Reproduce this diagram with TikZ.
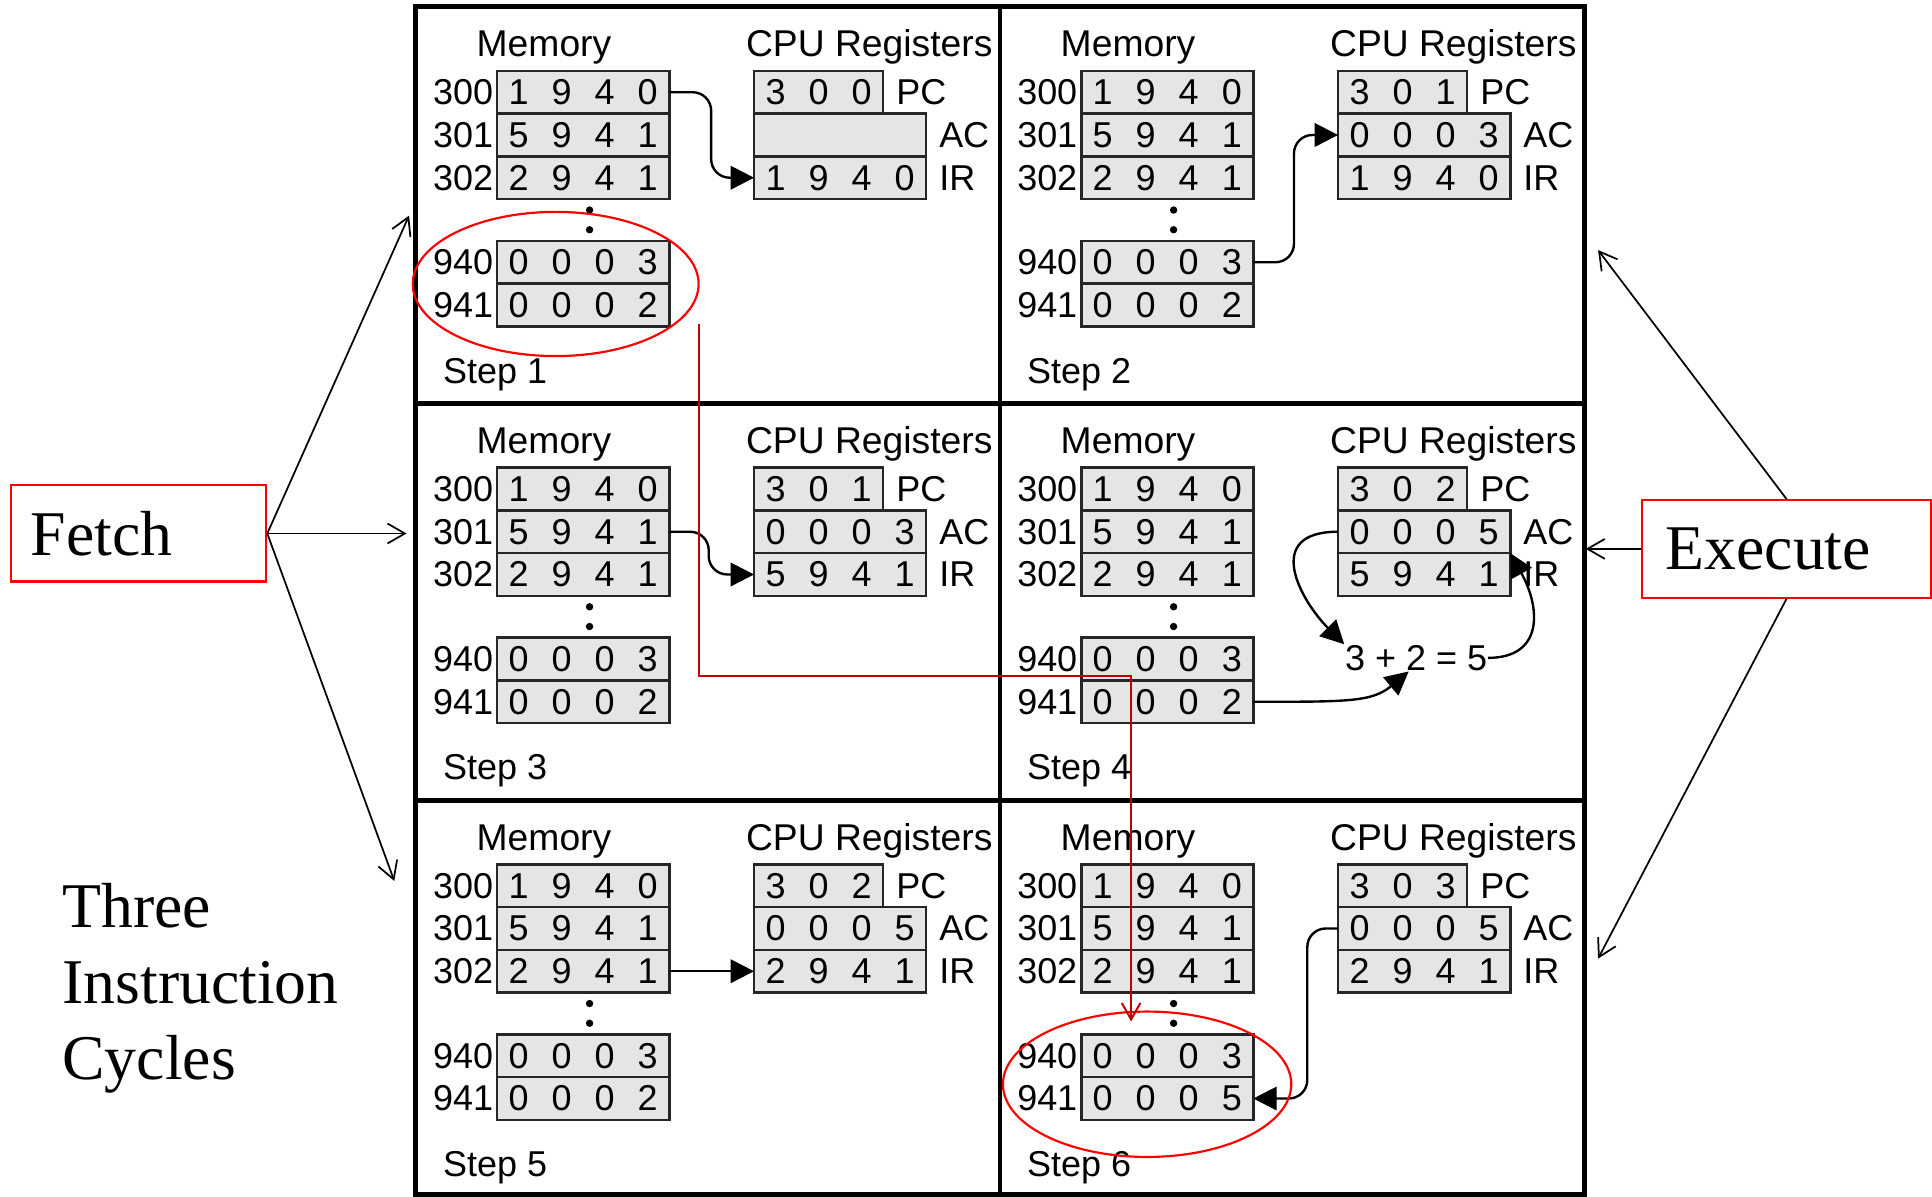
\documentclass[tikz,border=0pt]{standalone}
\usepackage{fontspec}
\setmainfont{Liberation Serif}
\setsansfont{Liberation Sans}
\usepackage{xcolor}
\usepackage{tikz}
\usetikzlibrary{arrows.meta, positioning}

\definecolor{darkred}{RGB}{192,0,0}
\newcommand{\pfont}{\sffamily\fontsize{8.3}{9.9}\selectfont}
\newcommand{\hfont}{\sffamily\fontsize{8.6}{10.3}\selectfont}
% one box per digit, so the digits sit evenly in a word
\newcommand{\digs}[1]{\edef\digstmp{#1}\expandafter\digsnext\digstmp\relax}
\def\digsnext#1{\ifx\relax#1\else\makebox[3.49mm]{#1}\expandafter\digsnext\fi}

\begin{document}
\begin{tikzpicture}[
    x=0.01cm, y=-0.01cm,
    frame/.style={line width=1.1pt},
    word/.style={draw=black!85, fill=black!10, line width=0.6pt, inner sep=0pt, outer sep=0pt,
                 minimum width=13.95mm, minimum height=3.47mm, anchor=north west, font=\pfont},
    pcword/.style={word, minimum width=10.47mm},
    lbl/.style={font=\pfont, inner sep=0pt},
    head/.style={lbl, font=\hfont, anchor=base},
    vdot/.style={circle, fill, inner sep=0pt, minimum size=0.6mm},
    link/.style={line width=0.55pt, -{Triangle[length=5.4pt, width=5.4pt]}},
    hint/.style={line width=0.4pt, -{Straight Barb[length=4pt, width=4.6pt]}},
    tag/.style={draw=red, line width=0.5pt, align=left, inner ysep=0pt,
                font=\fontsize{14.7}{17.6}\selectfont},
    ring/.style={draw=red, line width=0.5pt},
    route/.style={draw=darkred, line width=0.45pt, -{Straight Barb[length=3.8pt, width=4.3pt]}}
]
\useasboundingbox (0,0) rectangle (1568,971);

% six steps
\foreach \n/\ox/\oy/\vpc/\vac/\vir/\vlow in {
    1/337.5/5.5/300//1940/0002,
    2/811.5/5.5/301/0003/1940/0002,
    3/337.5/327.5/301/0003/5941/0002,
    4/811.5/327.5/302/0005/5941/0002,
    5/337.5/649.5/302/0005/2941/0002,
    6/811.5/649.5/303/0005/2941/0005} {
  \begin{scope}[shift={(\ox,\oy)}]
    \node[head] (p\n-mem) at (104,40.5) {Memory};
    \node[head] (p\n-cpu) at (368,40.5) {CPU Registers};
    \foreach \a/\w/\y in {300/1940/52, 301/5941/86.7, 302/2941/121.4, 940/0003/190, 941/\vlow/224.7} {
      \node[word] (p\n-\a) at (66,\y) {\digs{\w}};
      \node[lbl, left=0.25mm of p\n-\a] (p\n-a\a) {\a};
    }
    \node[vdot] (p\n-d1) at (141,165) {};
    \node[vdot] (p\n-d2) at (141,181) {};
    \node[pcword] (p\n-pc) at (274.5,52) {\digs{\vpc}};
    \node[word] (p\n-ac) at (274.5,86.7) {\digs{\vac}};
    \node[word] (p\n-ir) at (274.5,121.4) {\digs{\vir}};
    \node[lbl, right=1mm of p\n-pc] (p\n-lpc) {PC};
    \node[lbl, right=1mm of p\n-ac] (p\n-lac) {AC};
    \node[lbl, right=1mm of p\n-ir] (p\n-lir) {IR};
    \node[lbl, anchor=base west] (p\n-step) at (21.5,305.5) {Step \n};
  \end{scope}
}

\draw[frame] (337.5,5.5) rectangle (1286,969.5);
\draw[frame] (811.5,5.5) -- (811.5,969.5);
\draw[frame] (337.5,327.5) -- (1286,327.5);
\draw[frame] (337.5,649.5) -- (1286,649.5);

\node[lbl, anchor=base west] (p4-sum) at (1091,544) {3 + 2 = 5};

\draw[link, rounded corners=1.5mm] (p1-300.east) -- ++(34,0) |- (p1-ir.west);
\draw[link, rounded corners=1.5mm] (p2-940.east) -- ++(33,0) |- (p2-ac.west);
\draw[link, rounded corners=1.5mm] (p3-301.east) -- ++(32,0) |- (p3-ir.west);
\draw[link] (p4-ac.west) .. controls +(-62,0) and +(-35,-35) .. (p4-sum.north west);
\draw[link] (p4-941.east) .. controls +(75,0) and +(-30,25) .. ([xshift=-0.6mm]p4-sum.south);
\draw[link] (p4-sum.east) .. controls +(45,0) and +(25,45) .. (p4-ac.south east);
\draw[link] (p5-302.east) -- (p5-ir.west);
\draw[link, rounded corners=1.5mm] (p6-ac.west) -- ++(-25,0) |- (p6-941.east);

% fetch / execute notes
\node[tag, text width=1.75cm, inner xsep=1.6mm, minimum height=7.8mm] (fetch) at (112.5,433) {Fetch};
\node[tag, text width=1.96cm, inner xsep=1.9mm, minimum height=7.9mm] (exec) at (1450,445.5) {Execute};
\node[anchor=west, align=left, inner sep=0pt, font=\fontsize{14.7}{17.6}\selectfont] (cycles) at (50,802)
  {Three\\Instruction\\Cycles};

\coordinate (f-up) at (332,175);
\coordinate (f-mid) at (330,433);
\coordinate (f-low) at (320,715);
\coordinate (e-up) at (1297,203);
\coordinate (e-mid) at (1287,445.5);
\coordinate (e-low) at (1297,778);
\draw[hint] (fetch.east) -- (f-up);
\draw[hint] (fetch.east) -- (f-mid);
\draw[hint] (fetch.east) -- (f-low);
\draw[hint] (exec.north) -- (e-up);
\draw[hint] (exec.west) -- (e-mid);
\draw[hint] (exec.south) -- (e-low);

\draw[ring] (451,230.5) ellipse [x radius=116, y radius=58.5];
\draw[ring] (931,880) ellipse [x radius=117, y radius=59];

\coordinate (rt) at (567,263);
\coordinate (rm) at (567,548.5);
\coordinate (rb) at (918,829);
\draw[route] (rt) -- (rm) -| (rb);
\end{tikzpicture}
\end{document}
